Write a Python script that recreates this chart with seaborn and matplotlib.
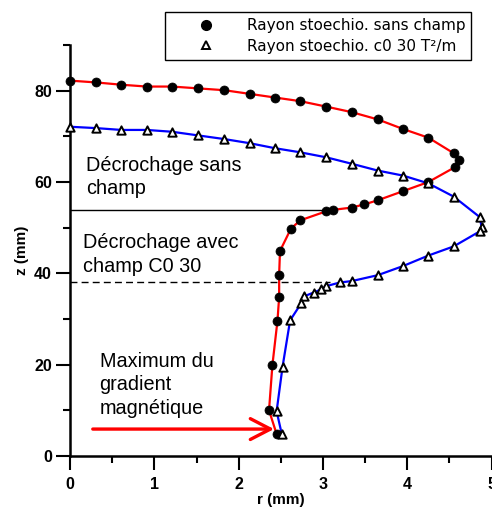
import matplotlib
matplotlib.use("Agg")
import matplotlib.pyplot as plt
import seaborn as sns
import pandas as pd
from matplotlib.lines import Line2D
from matplotlib.ticker import MultipleLocator

# Rayon stoechio. sans champ
r_sans = [0.00, 0.31, 0.61, 0.91, 1.21, 1.52, 1.83, 2.13, 2.43, 2.73, 3.04, 3.34, 3.65, 3.95,
          4.25, 4.55, 4.61, 4.56, 4.25, 3.95, 3.65, 3.49, 3.34, 3.12, 3.04, 2.73, 2.62, 2.49,
          2.48, 2.48, 2.46, 2.40, 2.36, 2.45]
z_sans = [82.2, 81.8, 81.3, 80.9, 80.9, 80.5, 80.1, 79.3, 78.5, 77.7, 76.5, 75.3, 73.7, 71.6,
          69.7, 66.3, 64.8, 63.2, 60.0, 58.0, 56.0, 55.1, 54.4, 53.9, 53.6, 51.6, 49.8, 44.9,
          39.7, 34.8, 29.6, 19.9, 10.0, 4.8]

# Rayon stoechio. c0 30 T²/m
r_c0 = [0.00, 0.31, 0.61, 0.91, 1.21, 1.52, 1.83, 2.13, 2.43, 2.73, 3.04, 3.34, 3.65, 3.95,
        4.25, 4.55, 4.86, 4.88, 4.86, 4.55, 4.25, 3.95, 3.65, 3.34, 3.20, 3.04, 2.98, 2.89,
        2.78, 2.74, 2.61, 2.52, 2.45, 2.51]
z_c0 = [72.1, 71.8, 71.4, 71.4, 71.0, 70.2, 69.4, 68.5, 67.4, 66.5, 65.4, 64.0, 62.5, 61.4,
        59.7, 56.8, 52.3, 50.1, 49.2, 45.9, 43.9, 41.6, 39.6, 38.3, 38.0, 37.2, 36.5, 35.8,
        35.0, 33.4, 29.7, 19.5, 9.8, 4.9]

labels = ["Rayon stoechio. sans champ", "Rayon stoechio. c0 30 T²/m"]
x_ticks = [0, 1, 2, 3, 4, 5]
y_ticks = [0, 20, 40, 60, 80]

df_sans = pd.DataFrame({"r": r_sans, "z": z_sans})
df_c0 = pd.DataFrame({"r": r_c0, "z": z_c0})

sns.set_style("ticks", {"axes.edgecolor": "black", "text.color": "black",
                        "xtick.color": "black", "ytick.color": "black",
                        "axes.labelcolor": "black"})
plt.rcParams['font.family'] = ['Liberation Sans', 'DejaVu Sans']

fig = plt.figure(figsize=(4.92, 5.09), dpi=100)
ax = fig.add_axes([0.1423, 0.1041, 0.8570, 0.8075])

sns.lineplot(data=df_sans, x="r", y="z", sort=False, color="#ff0000", lw=1.6,
             estimator=None, ax=ax, zorder=2)
sns.lineplot(data=df_c0, x="r", y="z", sort=False, color="#0000ff", lw=1.6,
             estimator=None, ax=ax, zorder=2)
sns.scatterplot(data=df_sans, x="r", y="z", marker="o", color="black", s=42,
                edgecolor="black", ax=ax, zorder=3, clip_on=False)
sns.scatterplot(data=df_c0, x="r", y="z", marker="^", facecolor="white", s=36,
                edgecolor="black", linewidth=1.4, ax=ax, zorder=3, clip_on=False)

# decrochage lines
ax.plot([0, 3.05], [53.9, 53.9], color="black", lw=1.0, zorder=1)
ax.plot([0, 3.08], [38.0, 38.0], color="black", lw=1.0, ls=(0, (5, 3)), zorder=1)

fs = 14.3
ax.text(0.19, 65.8, "Décrochage sans\nchamp", fontsize=fs, va="top", ha="left",
        linespacing=1.3, color="black")
ax.text(0.15, 48.8, "Décrochage avec\nchamp C0 30", fontsize=fs, va="top", ha="left",
        linespacing=1.3, color="black")
ax.text(0.35, 22.8, "Maximum du\ngradient\nmagnétique", fontsize=fs, va="top", ha="left",
        linespacing=1.3, color="black")
ax.annotate("", xy=(2.42, 5.9), xytext=(0.27, 5.9),
            arrowprops=dict(arrowstyle="->,head_length=1.45,head_width=0.75",
                            color="#ff0000", lw=2.4, shrinkA=0, shrinkB=0))

ax.set_xlim(0, 5)
ax.set_ylim(0, 90)
ax.set_xticks(x_ticks)
ax.set_yticks(y_ticks)
ax.xaxis.set_minor_locator(MultipleLocator(0.5))
ax.yaxis.set_minor_locator(MultipleLocator(10))
ax.tick_params(which="major", direction="out", length=10, width=1.5, labelsize=11.5,
               colors="black")
ax.tick_params(which="minor", direction="out", length=5, width=1.5, colors="black")
ax.tick_params(axis="y", which="major", pad=3)
ax.tick_params(axis="x", which="major", pad=5)
for lab in ax.get_xticklabels() + ax.get_yticklabels():
    lab.set_fontweight("bold")
ax.set_xlabel("r (mm)", fontsize=11, fontweight="bold", labelpad=1, color="black")
ax.set_ylabel("z (mm)", fontsize=11, fontweight="bold", labelpad=4, color="black")
for s in ["left", "bottom"]:
    ax.spines[s].set_linewidth(1.8)
    ax.spines[s].set_color("black")
sns.despine(ax=ax)
ax.patch.set_alpha(0)

handles = [Line2D([], [], marker="o", ls="", color="black", markersize=7),
           Line2D([], [], marker="^", ls="", markerfacecolor="white",
                  markeredgecolor="black", markersize=6, markeredgewidth=1.4)]
leg = fig.legend(handles, labels, loc="upper left", bbox_to_anchor=(165 / 492, 1 - 12 / 509),
                 frameon=True, fancybox=False, edgecolor="black", framealpha=1,
                 prop={"family": "DejaVu Sans", "size": 11}, handletextpad=0.35,
                 borderpad=0.4, labelspacing=0.37, handlelength=4.6, borderaxespad=0,
                 labelcolor="black")
leg.get_frame().set_linewidth(1.0)

fig.savefig("out.png", dpi=100)
